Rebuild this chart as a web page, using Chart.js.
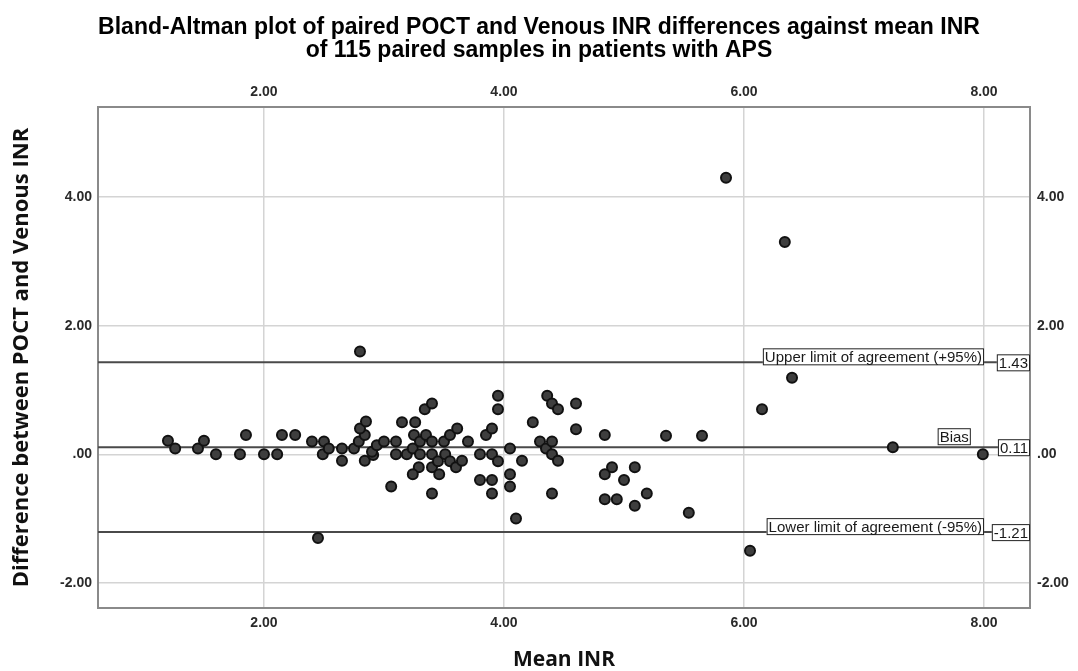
<!DOCTYPE html>
<html>
<head>
<meta charset="utf-8">
<script src="https://cdn.jsdelivr.net/npm/chart.js@4/dist/chart.umd.min.js"></script>
<style>
  html, body { margin: 0; padding: 0; background: #fff; }
  #wrap { width: 1078px; height: 671px; }
</style>
</head>
<body>
<div id="wrap"><canvas id="baChart" width="1078" height="671"></canvas></div>
<script>
// mean of the two INR readings (x) and POCT - venous difference (y)
const meanInr = [
  1.20, 1.26, 1.45, 1.50, 1.60, 1.85, 1.80, 2.00, 2.11, 2.15, 2.26, 2.40, 2.50,
  2.49, 2.54, 2.65, 2.65, 2.45, 2.75, 2.79, 2.84, 2.80, 2.85, 2.84, 2.91, 2.80,
  2.90, 2.94, 3.00, 3.10, 3.10, 3.06, 3.15, 3.26, 3.25, 3.34, 3.40, 3.19, 3.24,
  3.30, 3.35, 3.40, 3.30, 3.29, 3.24, 3.40, 3.46, 3.40, 3.40, 3.45, 3.50, 3.55,
  3.61, 3.51, 3.55, 3.60, 3.65, 3.70, 3.80, 3.80, 3.85, 3.90, 3.90, 3.90, 3.90,
  3.95, 3.95, 3.95, 4.05, 4.05, 4.05, 4.10, 4.15, 4.24, 4.30, 4.36, 4.40, 4.45,
  4.35, 4.40, 4.40, 4.45, 4.40, 4.60, 4.60, 4.84, 4.84, 4.90, 4.84, 4.94, 5.00,
  5.09, 5.09, 5.19, 6.40, 6.15, 5.35, 5.65, 7.24, 7.99, 5.54, 6.05, 5.85, 6.34
]
const diffInr = [
  0.21, 0.09, 0.09, 0.21, 0.00, 0.30, 0.00, 0.00, 0.00, 0.30, 0.30, 0.20, 0.20,
  0.00, 0.09, 0.09, -0.10, -1.30, 0.09, 0.20, 0.30, 0.40, 0.51, -0.10, -0.01, 1.60,
  0.04, 0.14, 0.20, 0.20, 0.00, -0.50, 0.50, 0.50, 0.30, 0.70, 0.79, 0.00, 0.09,
  0.20, 0.30, 0.20, 0.00, -0.20, -0.31, -0.20, -0.31, -0.61, 0.00, -0.11, 0.20, 0.30,
  0.40, 0.00, -0.11, -0.20, -0.10, 0.20, 0.00, -0.40, 0.30, 0.40, 0.00, -0.40, -0.61,
  -0.11, 0.91, 0.70, 0.09, -0.31, -0.50, -1.00, -0.10, 0.50, 0.20, 0.91, 0.79, 0.70,
  0.09, 0.20, 0.00, -0.10, -0.61, 0.79, 0.39, 0.30, -0.31, -0.20, -0.70, -0.70, -0.40,
  -0.20, -0.80, -0.61, 1.19, 0.70, 0.29, 0.29, 0.11, 0.00, -0.91, -1.50, 4.30, 3.30
]

const xTicks = [2, 4, 6, 8]
const yTicks = [-2, 0, 2, 4]

const limitValues = [1.43, 0.11, -1.21]
const limitText = ['1.43', '0.11', '-1.21']
const limitNames = ['Upper limit of agreement (+95%)', 'Bias', 'Lower limit of agreement (-95%)']

const X_MIN = 0.617, X_MAX = 8.383
const Y_MIN = -2.39, Y_MAX = 5.40

const tickFont = { family: '"Liberation Sans", Arial, sans-serif', size: 14, weight: 'bold' }
const axisTitleFont = { family: '"Open Sans", "DejaVu Sans", sans-serif', size: 22, weight: 'bold' }

function fmt(v) {
  // SPSS style: .00, 2.00, -2.00
  return v.toFixed(2).replace(/^(-?)0\./, '$1.')
}

const points = meanInr.map((m, i) => ({ x: m, y: diffInr[i] }))

const lineSets = limitValues.map(v => ({
  data: [{ x: X_MIN, y: v }, { x: X_MAX, y: v }],
  showLine: true,
  borderColor: '#4a4a4a',
  borderWidth: 2,
  pointRadius: 0
}))

// boxed labels for the bias / limits lines
const agreementLabels = {
  id: 'agreementLabels',
  afterDatasetsDraw(chart) {
    const { ctx, chartArea, scales } = chart
    ctx.save()
    ctx.font = '15px "Liberation Sans", Arial, sans-serif'
    ctx.textBaseline = 'middle'
    ctx.lineWidth = 1

    function box(x, y, w, h, txt) {
      ctx.fillStyle = '#fff'
      ctx.fillRect(x, y, w, h)
      ctx.strokeStyle = '#222'
      ctx.strokeRect(x + 0.5, y + 0.5, w - 1, h - 1)
      ctx.fillStyle = '#1a1a1a'
      ctx.textAlign = 'left'
      ctx.fillText(txt, x + 2, y + h / 2 + 1)
    }

    limitValues.forEach((v, i) => {
      const y = scales.y.getPixelForValue(v)
      const vw = ctx.measureText(limitText[i]).width + 4
      box(chartArea.right - vw, y - 8, vw, 17, limitText[i])

      const right = scales.x.getPixelForValue(i === 1 ? 7.89 : 8.0)
      const nw = ctx.measureText(limitNames[i]).width + 4
      const top = i === 1 ? y - 19 : y - 14
      box(right - nw, top, nw, 17, limitNames[i])
    })
    ctx.restore()
  }
}

new Chart(document.getElementById('baChart'), {
  type: 'scatter',
  data: {
    datasets: [
      {
        data: points,
        backgroundColor: '#3e3e3e',
        borderColor: '#111',
        borderWidth: 2,
        pointRadius: 5
      },
      ...lineSets
    ]
  },
  options: {
    responsive: false,
    animation: false,
    devicePixelRatio: 1,
    layout: { padding: 0 },
    plugins: {
      legend: { display: false },
      tooltip: { enabled: false },
      title: {
        display: true,
        text: [
          'Bland-Altman plot of paired POCT and Venous INR differences against mean INR',
          'of 115 paired samples in patients with APS'
        ],
        color: '#000',
        font: { family: '"Liberation Sans", Arial, sans-serif', size: 23, weight: 'bold', lineHeight: 1 },
        padding: { top: 16, bottom: 0 }
      }
    },
    scales: {
      x: {
        type: 'linear',
        position: 'bottom',
        min: X_MIN,
        max: X_MAX,
        afterBuildTicks: s => { s.ticks = xTicks.map(v => ({ value: v })) },
        afterFit: s => { s.height = 63 },
        grid: { color: '#d4d4d4', lineWidth: 1.5, drawTicks: false },
        border: { color: '#8a8a8a', width: 2 },
        ticks: { padding: 7, color: '#2a2a2a', font: tickFont, callback: v => fmt(v) },
        title: { display: true, text: 'Mean INR', color: '#111', font: { ...axisTitleFont, size: 21, lineHeight: 1 }, padding: { top: 0, bottom: 0 } }
      },
      x2: {
        type: 'linear',
        position: 'top',
        min: X_MIN,
        max: X_MAX,
        afterBuildTicks: s => { s.ticks = xTicks.map(v => ({ value: v })) },
        afterFit: s => { s.height = 107 - 16 - 2 * 23 },
        grid: { display: false, drawTicks: false },
        border: { color: '#8a8a8a', width: 2 },
        ticks: { padding: 6, color: '#2a2a2a', font: tickFont, callback: v => fmt(v) }
      },
      y: {
        type: 'linear',
        position: 'left',
        min: Y_MIN,
        max: Y_MAX,
        afterBuildTicks: s => { s.ticks = yTicks.map(v => ({ value: v })) },
        afterFit: s => { s.width = 98 },
        grid: { color: '#d4d4d4', lineWidth: 1.5, drawTicks: false },
        border: { color: '#8a8a8a', width: 2 },
        ticks: { padding: 6, color: '#2a2a2a', font: tickFont, callback: v => fmt(v) },
        title: { display: true, text: 'Difference between POCT and Venous INR', color: '#111', font: axisTitleFont, padding: { top: 9, bottom: 0 } }
      },
      y2: {
        type: 'linear',
        position: 'right',
        min: Y_MIN,
        max: Y_MAX,
        afterBuildTicks: s => { s.ticks = yTicks.map(v => ({ value: v })) },
        afterFit: s => { s.width = 48 },
        grid: { display: false, drawTicks: false },
        border: { color: '#8a8a8a', width: 2 },
        ticks: { padding: 7, color: '#2a2a2a', font: tickFont, callback: v => fmt(v) }
      }
    }
  },
  plugins: [agreementLabels]
})
</script>
</body>
</html>
